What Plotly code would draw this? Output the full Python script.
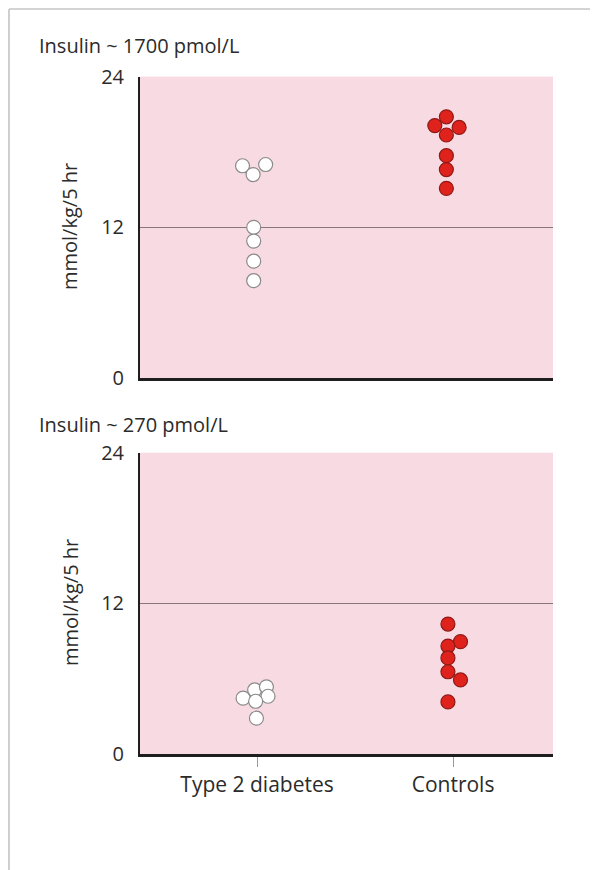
import plotly.graph_objects as go

# ---- data ----
categories = ["Type 2 diabetes", "Controls"]
cat_pos = [1, 2]
y_ticks = [0, 12, 24]
panel_titles = ["Insulin ~ 1700 pmol/L", "Insulin ~ 270 pmol/L"]
y_title = "mmol/kg/5 hr"

# high insulin (top panel)
hi_diab_y = [16.9, 16.2, 17.0, 12.0, 10.9, 9.3, 7.75]
hi_diab_dx = [-0.074, -0.02, 0.044, -0.017, -0.017, -0.017, -0.017]
hi_ctrl_y = [20.1, 20.8, 19.95, 19.35, 17.7, 16.6, 15.1]
hi_ctrl_dx = [-0.093, -0.034, 0.031, -0.034, -0.034, -0.034, -0.034]

# low insulin (bottom panel)
lo_diab_y = [4.45, 5.1, 5.35, 4.6, 4.2, 2.85]
lo_diab_dx = [-0.071, -0.012, 0.048, 0.056, -0.007, -0.003]
lo_ctrl_y = [10.35, 8.95, 8.6, 7.65, 6.55, 5.9, 4.15]
lo_ctrl_dx = [-0.026, 0.038, -0.026, -0.026, -0.026, 0.038, -0.026]

PINK = "#f8dae3"
RED = "#e0221c"
RED_EDGE = "#8e1a16"
WHITE_EDGE = "#8a8a8a"
FONT = "Open Sans"
TXT = "#2b2b2b"

W, H = 598, 870
OFF = 8  # page body margin in the browser


def px_x(x):
    return (x - OFF) / W


def px_y(y):
    return (H - (y - OFF)) / H


x_dom = [px_x(140), px_x(553)]
top_dom = [px_y(378), px_y(76.6)]
bot_dom = [px_y(754), px_y(452.7)]

fig = go.Figure()


def add_pts(ys, dxs, base, fill, edge, xa, ya):
    fig.add_trace(go.Scatter(
        x=[base + d for d in dxs], y=ys, mode="markers",
        marker=dict(size=14, color=fill, line=dict(color=edge, width=1.2)),
        xaxis=xa, yaxis=ya, showlegend=False, hoverinfo="skip"))


add_pts(hi_diab_y, hi_diab_dx, cat_pos[0], "white", WHITE_EDGE, "x", "y")
add_pts(hi_ctrl_y, hi_ctrl_dx, cat_pos[1], RED, RED_EDGE, "x", "y")
add_pts(lo_diab_y, lo_diab_dx, cat_pos[0], "white", WHITE_EDGE, "x2", "y2")
add_pts(lo_ctrl_y, lo_ctrl_dx, cat_pos[1], RED, RED_EDGE, "x2", "y2")

xrange = [0.403, 2.51]
common_y = dict(range=[0, 24], tickvals=y_ticks, ticktext=[str(v) for v in y_ticks],
                showgrid=True, gridcolor="#85777a", gridwidth=1.4,
                showline=True, linecolor="#1e1e1e", linewidth=2,
                zeroline=False, ticks="", ticklabelstandoff=10, automargin=False,
                tickfont=dict(family=FONT, size=20, color=TXT), fixedrange=True)

fig.update_layout(
    width=W, height=H, margin=dict(l=0, r=0, t=0, b=0, pad=0, autoexpand=False),
    paper_bgcolor="white", plot_bgcolor=PINK, showlegend=False,
    xaxis=dict(domain=x_dom, range=xrange, anchor="y", showline=True,
               linecolor="#1e1e1e", linewidth=2.5, showgrid=False, zeroline=False,
               showticklabels=False, ticks="", automargin=False),
    yaxis=dict(domain=top_dom, anchor="x", **common_y),
    xaxis2=dict(domain=x_dom, range=xrange, anchor="y2", showline=True,
                linecolor="#1e1e1e", linewidth=2.5, showgrid=False, zeroline=False,
                tickvals=cat_pos, ticktext=categories, ticks="outside",
                ticklen=10, tickcolor="#9a9a9a", tickwidth=1, automargin=False,
                tickfont=dict(family=FONT, size=21, color=TXT)),
    yaxis2=dict(domain=bot_dom, anchor="x2", **common_y),
)

# panel titles
for title, ypx in zip(panel_titles, [45, 424]):
    fig.add_annotation(text=title, xref="paper", yref="paper",
                       x=px_x(37), y=px_y(ypx), xanchor="left", yanchor="middle",
                       showarrow=False, font=dict(family=FONT, size=20, color=TXT))

# y titles
for ypx in [227, 603]:
    fig.add_annotation(text=y_title, xref="paper", yref="paper",
                       x=px_x(70), y=px_y(ypx), xanchor="center", yanchor="middle",
                       textangle=-90, showarrow=False,
                       font=dict(family=FONT, size=20, color=TXT))

# page frame (scan border)
fig.add_shape(type="line", xref="paper", yref="paper", x0=1 / W, x1=1, y0=1 - 1 / H,
              y1=1 - 1 / H, line=dict(color="#d4d4d4", width=2))
fig.add_shape(type="line", xref="paper", yref="paper", x0=1 / W, x1=1 / W, y0=0,
              y1=1 - 1 / H, line=dict(color="#cfcfcf", width=2))

fig.write_html("out.html")
